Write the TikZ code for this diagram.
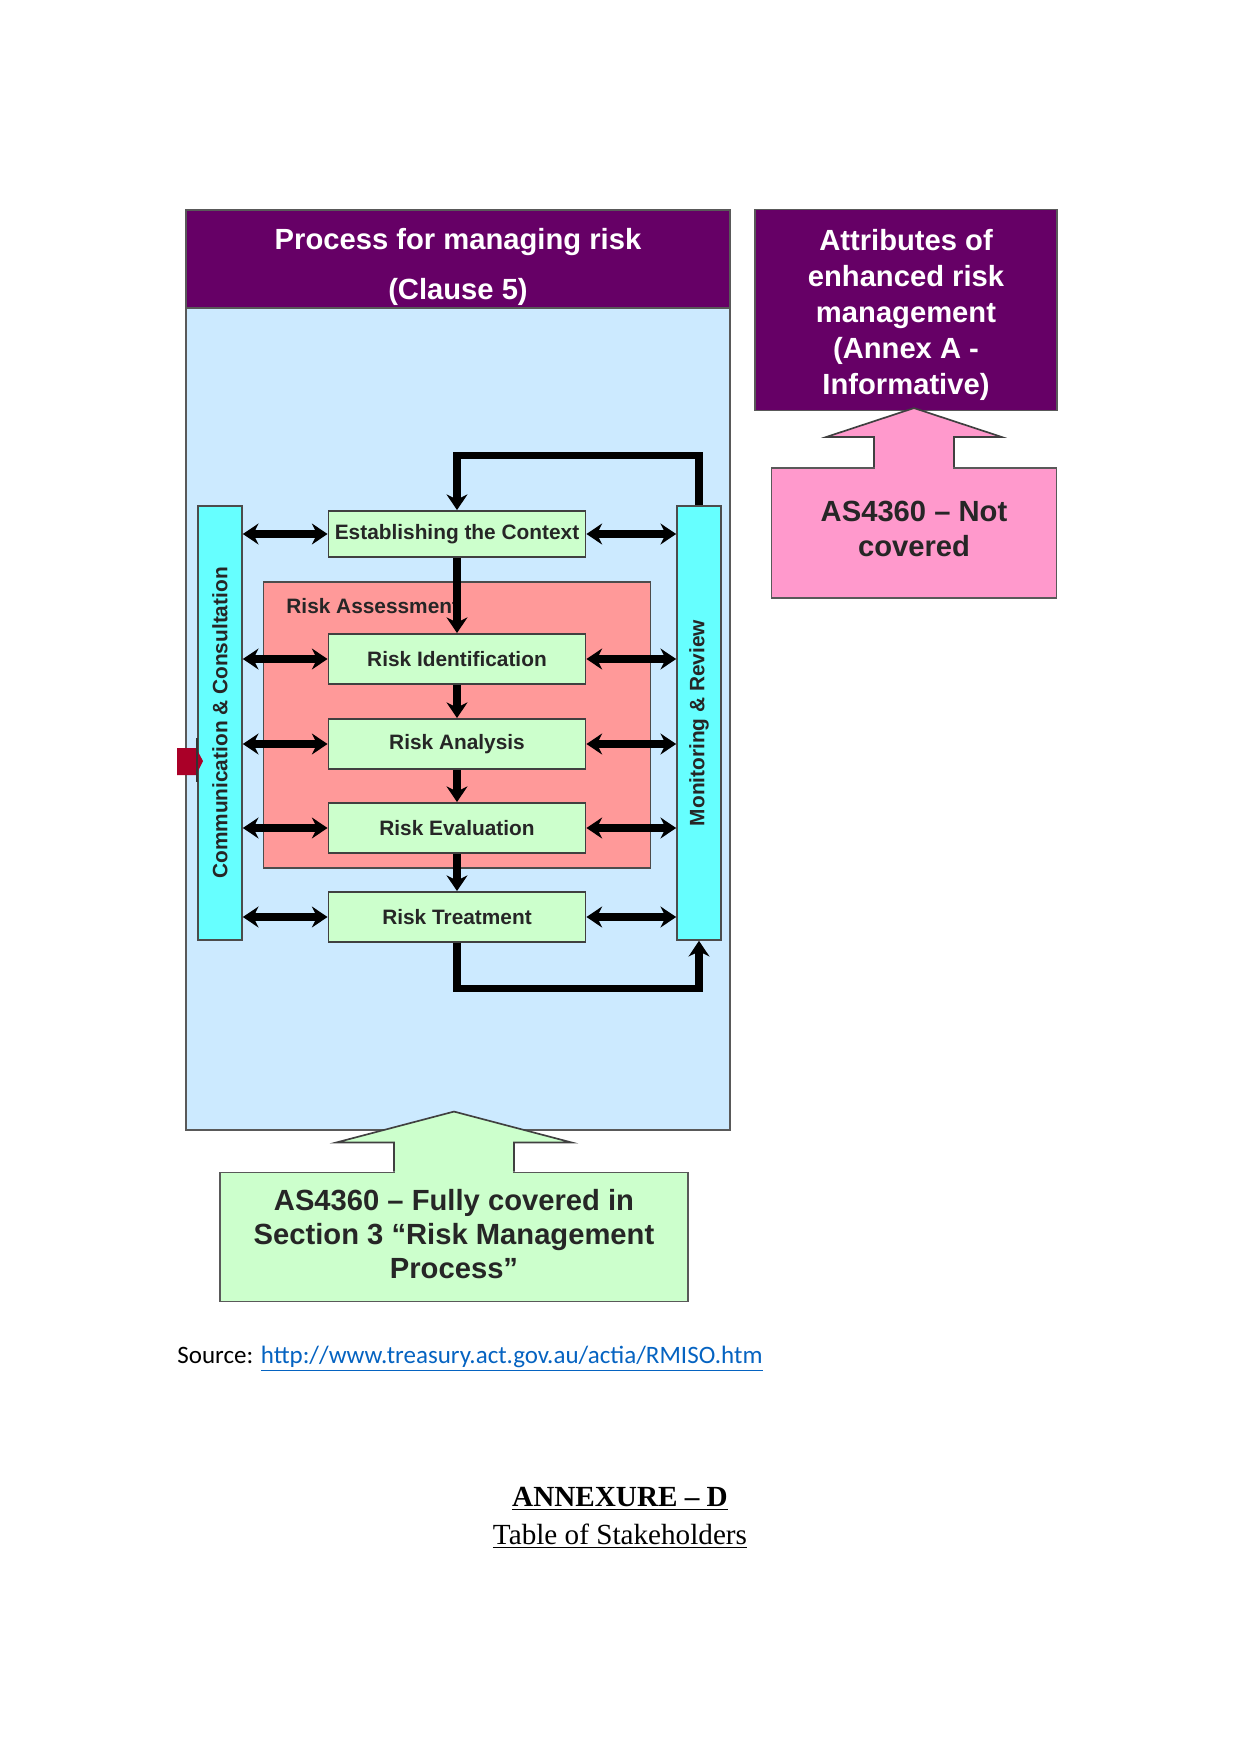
\documentclass[tikz,border=0pt]{standalone}
\usepackage{fontspec}
\setmainfont{Liberation Sans}
\newfontfamily\srcfont{Carlito}
\newfontfamily\annexfont{Liberation Serif}
\usetikzlibrary{arrows.meta, positioning, calc}
\definecolor{mainblue}{RGB}{204,234,255}
\definecolor{headpurple}{RGB}{102,0,102}
\definecolor{barcyan}{RGB}{102,255,255}
\definecolor{assessred}{RGB}{255,153,153}
\definecolor{stagegreen}{RGB}{204,255,204}
\definecolor{notpink}{RGB}{255,153,204}
\definecolor{markred}{RGB}{170,0,40}
\definecolor{linkblue}{RGB}{5,99,193}
\newcommand\pxu{0.4797pt}

\tikzset{
    stagebox/.style={draw=black!75, fill=stagegreen, line width=0.9pt, minimum width=257*\pxu, minimum height=50*\pxu, inner sep=0pt, font=\bfseries\fontsize{10}{12}\selectfont, text=black!85},
    sidebar/.style={draw=black!70, fill=barcyan, line width=0.8pt, minimum width=44*\pxu, minimum height=434*\pxu, inner sep=0pt},
    bartext/.style={rotate=90, font=\bfseries\fontsize{10}{12}\selectfont, text=black!85},
    flow/.style={line width=3.4pt, -{Stealth[length=7.5pt,width=10pt]}},
    link/.style={line width=3.4pt, {Stealth[length=7.5pt,width=10pt]}-{Stealth[length=7.5pt,width=10pt]}},
    bigtext/.style={font=\bfseries\fontsize{14}{16.5}\selectfont, align=center}
}

\begin{document}
\begin{tikzpicture}[x=0.4797pt, y=-0.4797pt]
    \useasboundingbox (0,0) rectangle (1241,1754);

    % Bloc principal: processus de gestion du risque
    \node[draw=black!65, fill=mainblue, line width=0.9pt, minimum width=544*\pxu, minimum height=920*\pxu, inner sep=0pt] (main) at (458,670) {};
    \node[draw=black!65, fill=headpurple, line width=0.9pt, minimum width=544*\pxu, minimum height=98*\pxu, inner sep=0pt] (head) at (458,259) {};
    \node[text=white, font=\bfseries\fontsize{14}{24}\selectfont, align=center, inner sep=0pt] (headtext) at (458,267) {Process for managing risk\\(Clause 5)};

    % Bloc droit: annexe A
    \node[draw=black!65, fill=headpurple, line width=0.9pt, minimum width=302*\pxu, minimum height=201*\pxu, inner sep=0pt] (attr) at (906,310) {};
    \node[text=white, font=\bfseries\fontsize{14}{17.3}\selectfont, align=center, inner sep=0pt] (attrtext) at (906,315) {Attributes of\\enhanced risk\\management\\(Annex A -\\Informative)};
    \node[draw=black!65, fill=notpink, line width=0.9pt, minimum width=285*\pxu, minimum height=130*\pxu, inner sep=0pt] (notcov) at (914,533) {};
    \node[bigtext, text=black!85, inner sep=0pt] (notcovtext) at (914,529) {AS4360 -- Not\\covered};

    % Fleche rose
    \begin{scope}[shift={(notcov.north)}]
        \filldraw[fill=notpink, draw=black!75, line width=0.8pt] (-40,0) -- (-40,-30) -- (-88,-30) -- (0,-59) -- (88,-30) -- (40,-30) -- (40,0);
        \fill[notpink] (-39.2,-1) rectangle (39.2,2.5);
    \end{scope}

    % Barres laterales
    \node[sidebar] (leftbar) at (220,723) {};
    \node[bartext] (leftlabel) at (leftbar.center) {Communication \& Consultation};
    \node[sidebar] (rightbar) at (699,723) {};
    \node[bartext] (rightlabel) at (rightbar.center) {Monitoring \& Review};

    % Appreciation du risque
    \node[draw=black!70, fill=assessred, line width=0.9pt, minimum width=387*\pxu, minimum height=286*\pxu, inner sep=0pt] (assess) at (457,725) {};
    \node[anchor=west, inner sep=0pt, font=\bfseries\fontsize{10}{12}\selectfont, text=black!85] (assesslabel) at (286,606) {Risk Assessment};

    % Etapes
    \node[stagebox, minimum height=46*\pxu] (ctx) at (457,534) {Establishing the Context};
    \node[stagebox] (ident) at (457,659) {Risk Identification};
    \node[stagebox] (analysis) at (457,744) {Risk Analysis};
    \node[stagebox] (eval) at (457,828) {Risk Evaluation};
    \node[stagebox] (treat) at (457,917) {Risk Treatment};

    % Liaisons
    \foreach \s in {ctx, ident, analysis, eval, treat} {
        \draw[link] (leftbar.east |- \s.west) -- (\s.west);
        \draw[link] (\s.east) -- (rightbar.west |- \s.east);
    }
    \draw[flow] (ctx.south) -- (ident.north);
    \draw[flow] (ident.south) -- (analysis.north);
    \draw[flow] (analysis.south) -- (eval.north);
    \draw[flow] (eval.south) -- (treat.north);
    \draw[flow] (rightbar.north) -- ++(0,-50) -| (ctx.north);
    \draw[flow] (treat.south) -- ++(0,46) -| (rightbar.south);

    % Marqueur rouge
    \fill[markred] (177,748) -- (196,748) -- (203,761) -- (196,775) -- (177,775) -- cycle;
    \draw[black!80, line width=1pt] (197,738) -- (197,782);

    % Bloc vert du bas
    \node[draw=black!65, fill=stagegreen, line width=0.9pt, minimum width=468*\pxu, minimum height=129*\pxu, inner sep=0pt] (cover) at (454,1237) {};
    \node[bigtext, text=black!85, inner sep=0pt] (covertext) at (454,1234) {AS4360 -- Fully covered in\\Section 3 ``Risk Management\\Process''};
    \begin{scope}[shift={(cover.north)}]
        \filldraw[fill=stagegreen, draw=black!75, line width=0.8pt] (-60,0) -- (-60,-29) -- (-118,-29) -- (0,-60) -- (118,-29) -- (60,-29) -- (60,0);
        \fill[stagegreen] (-59.2,-1) rectangle (59.2,2.5);
    \end{scope}

    % Texte sous la figure
    \node[anchor=base west, inner sep=0pt, font=\srcfont\fontsize{12}{14}\selectfont] (source) at (177,1363) {Source: \textcolor{linkblue}{\underline{http://www.treasury.act.gov.au/actia/RMISO.htm}}};
    \node[anchor=base, inner sep=0pt, font=\annexfont\bfseries\fontsize{14}{16}\selectfont] (annex) at (620,1506) {\underline{ANNEXURE – D}};
    \node[anchor=base, inner sep=0pt, font=\annexfont\fontsize{14}{16}\selectfont] (stake) at (620,1544) {\underline{Table of Stakeholders}};
\end{tikzpicture}
\end{document}
